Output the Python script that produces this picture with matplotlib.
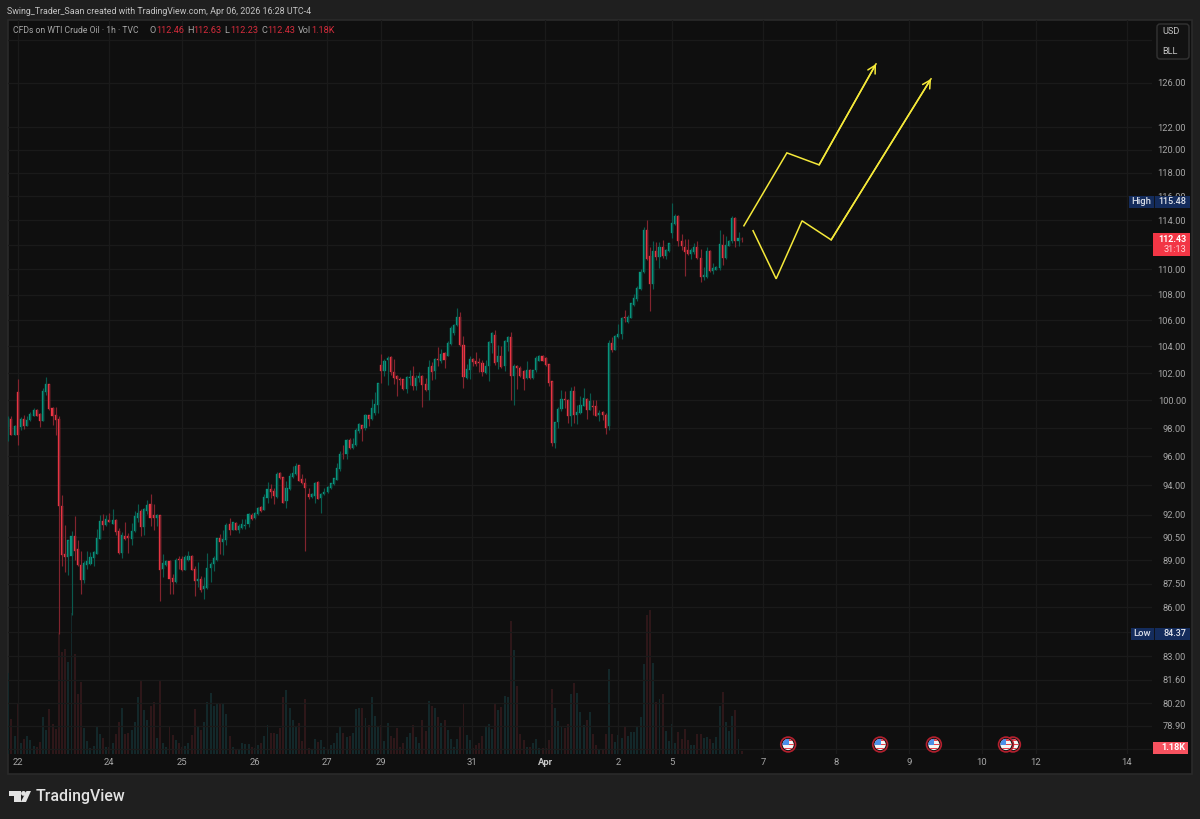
import matplotlib
matplotlib.use("Agg")
import matplotlib.pyplot as plt
from matplotlib.patches import Circle, FancyBboxPatch, Polygon, Rectangle

# hourly candles
opens = [98.06,98.65,97.53,100.61,98.08,98.65,98.17,98.60,98.89,99.32,
         99.04,98.53,100.58,101.20,99.44,98.96,98.65,92.58,89.44,89.22,
         89.27,90.57,89.75,88.73,87.77,88.73,88.79,89.16,89.44,90.42,
         91.57,91.31,91.68,91.42,91.68,90.93,89.49,90.61,90.57,90.42,
         90.90,91.80,92.25,91.19,92.29,92.76,92.02,91.80,92.02,88.47,
         88.68,88.99,87.87,87.62,89.12,89.09,88.40,89.05,89.31,88.44,
         87.66,87.79,87.15,87.21,88.49,88.75,89.01,90.48,90.22,90.33,
         91.37,90.99,91.48,90.99,91.15,91.26,91.37,91.99,91.77,92.04,
         92.55,92.33,93.11,93.77,93.59,93.20,94.82,94.57,92.93,93.72,
         94.59,94.75,95.39,94.41,94.18,93.38,93.22,93.27,94.23,93.11,
         93.38,93.54,93.79,94.06,94.36,95.09,96.18,96.14,97.14,96.60,
         96.79,97.77,98.25,98.01,98.92,98.66,99.09,99.69,102.63,102.13,
         103.00,103.20,102.06,101.81,101.59,101.57,100.84,101.62,101.79,101.08,
         101.64,101.81,101.23,100.74,102.50,102.13,103.05,102.88,103.50,103.30,
         104.18,105.01,105.60,106.25,104.13,101.64,102.26,103.05,102.88,102.80,
         102.75,102.01,102.50,104.26,104.88,102.80,103.30,102.50,104.33,104.71,
         101.81,102.50,102.38,102.18,101.64,102.26,101.62,102.21,102.93,103.30,
         103.13,102.68,101.38,96.93,98.42,99.40,100.12,100.05,98.90,100.67,
         98.97,99.09,99.62,100.10,99.33,99.62,99.62,98.95,99.14,98.97,
         98.13,104.25,103.74,104.75,104.96,106.29,105.90,106.21,107.20,107.64,
         108.41,109.77,113.21,111.11,108.81,111.52,110.98,111.79,111.11,111.49,
         112.94,113.71,114.37,112.26,111.79,111.57,111.25,111.38,111.77,110.90,
         109.37,109.37,111.52,109.87,109.96,110.09,111.99,110.90,111.90,112.26,
         114.18,112.26,112.46]
highs = [98.84,98.84,98.24,101.56,98.80,98.96,98.84,99.13,99.44,99.37,
         99.08,100.90,101.71,101.22,99.51,99.51,98.84,93.37,91.35,90.35,
         90.90,91.95,90.35,89.59,88.94,89.59,89.55,89.59,91.06,91.97,
         92.09,92.02,92.14,92.39,91.73,91.13,90.86,91.51,90.79,91.46,
         92.29,92.76,92.39,92.47,92.98,93.44,92.73,92.09,92.02,89.44,
         89.05,89.05,88.15,89.16,89.27,89.27,89.38,89.64,89.38,88.62,
         88.88,88.00,87.96,89.46,88.90,89.29,90.48,90.75,90.99,91.43,
         91.81,91.54,91.52,91.37,91.70,91.70,92.11,92.15,92.19,92.55,
         92.59,93.43,94.25,94.06,93.84,94.93,94.91,94.59,94.29,94.82,
         95.32,95.51,95.39,94.75,94.52,93.84,93.50,94.25,94.29,93.50,
         93.84,93.95,94.18,94.52,95.56,96.37,96.83,97.23,97.30,97.30,
         98.01,98.37,98.25,99.02,98.97,100.10,100.59,101.28,103.45,103.05,
         103.25,103.25,103.05,101.89,101.69,101.59,101.81,102.26,102.55,101.89,
         102.06,101.84,101.64,102.95,102.80,103.13,103.93,103.80,103.55,104.43,
         105.53,105.73,106.92,106.61,104.81,102.68,103.25,103.13,103.55,103.13,
         103.00,103.00,104.43,105.09,105.27,104.13,104.00,104.51,104.83,105.09,
         102.70,102.63,102.55,102.26,102.93,102.33,102.26,103.25,103.38,103.38,
         103.20,102.70,101.40,98.42,99.52,100.79,100.67,100.10,100.99,101.08,
         99.69,100.35,100.91,100.15,100.54,100.00,100.05,99.33,99.19,99.09,
         104.51,104.75,104.88,105.69,106.29,106.81,106.42,107.38,108.05,108.68,
         110.01,113.43,114.04,111.79,112.26,112.20,112.20,112.39,111.63,112.12,
         115.48,114.54,114.46,112.86,112.45,112.45,111.71,112.17,112.33,111.63,
         110.23,111.79,111.57,110.55,110.28,113.21,112.89,112.67,112.39,114.37,
         114.26,113.03,112.63]
lows = [97.06,97.48,97.48,96.83,97.89,97.96,98.12,98.49,98.89,98.84,
        98.05,98.49,100.41,99.32,98.24,97.48,84.37,88.62,88.23,88.08,
        85.53,89.05,88.62,86.82,87.56,88.47,88.73,88.62,89.44,90.42,
        91.01,91.24,91.51,91.42,90.68,89.42,89.16,90.31,89.49,90.03,
        90.86,91.51,90.57,90.68,92.09,91.24,91.01,91.24,86.40,87.91,
        88.62,86.82,86.88,87.56,88.47,88.34,88.40,88.99,88.40,86.71,
        87.28,86.99,86.56,87.15,87.58,88.32,88.97,89.40,89.35,90.01,
        90.64,90.97,90.97,90.81,91.04,91.04,91.19,91.66,91.70,91.97,
        92.21,92.33,92.77,93.11,92.71,93.11,94.41,92.77,92.48,93.68,
        94.48,94.68,94.29,94.06,89.61,93.08,93.15,92.82,93.04,92.15,
        93.34,93.50,93.72,94.00,94.34,94.97,95.83,95.83,96.49,96.49,
        96.72,97.65,97.07,97.89,98.13,98.61,98.97,99.09,101.28,101.82,
        101.15,101.89,101.23,100.35,101.15,100.79,100.54,101.15,100.74,100.79,
        101.35,99.52,100.67,100.05,101.52,101.59,102.50,102.75,102.38,103.25,
        104.13,104.88,105.53,104.06,100.91,101.57,101.59,102.50,102.50,102.06,
        101.81,101.96,101.40,103.50,102.58,102.33,102.38,102.13,103.63,100.05,
        99.69,100.86,101.72,100.79,101.57,101.57,101.59,102.06,102.88,102.88,
        102.55,101.08,96.74,96.57,98.01,99.21,99.45,98.37,98.13,98.37,
        98.32,99.04,99.57,98.68,99.28,98.97,98.85,98.49,98.61,97.58,
        97.84,103.56,103.74,104.63,104.58,105.90,105.82,106.16,107.12,107.53,
        108.36,109.74,110.76,106.68,108.41,110.76,110.15,110.90,110.84,111.44,
        112.58,113.62,111.85,111.57,109.51,111.17,110.84,111.25,110.82,108.97,
        109.16,109.29,109.82,109.63,109.96,109.96,110.36,110.84,111.85,112.17,
        111.79,111.93,112.23]
closes = [98.72,97.53,98.17,97.53,98.65,98.17,98.56,99.04,99.27,98.89,
          98.53,100.66,101.20,99.37,98.89,98.60,92.58,89.38,89.22,90.35,
          90.57,89.64,88.68,87.77,88.83,88.94,89.22,89.53,90.46,91.57,
          91.31,91.75,91.55,91.68,90.84,89.46,90.68,90.40,90.46,90.95,
          91.91,92.14,91.17,92.36,92.69,91.80,91.80,92.02,88.40,88.83,
          88.94,87.83,87.62,89.05,89.01,88.36,89.20,89.27,88.40,87.66,
          87.81,87.11,87.36,88.53,88.79,89.18,90.44,90.22,90.38,91.32,
          90.99,91.54,90.99,91.26,91.37,91.35,92.04,91.70,92.15,92.48,
          92.26,93.20,93.72,93.54,93.27,94.77,94.48,92.82,93.79,94.64,
          94.82,95.32,94.32,94.13,93.84,93.22,93.38,94.18,93.08,93.43,
          93.57,93.90,94.18,94.48,95.16,96.18,96.14,97.14,96.60,96.88,
          97.89,98.32,97.94,98.92,98.66,99.45,99.74,101.28,102.13,102.88,
          103.13,102.06,101.64,101.57,101.52,100.86,101.72,101.72,101.08,101.64,
          101.81,101.15,100.72,102.43,102.06,103.05,103.00,103.45,102.95,104.26,
          105.40,105.65,106.25,104.08,101.72,102.30,103.05,102.80,102.68,102.73,
          102.06,102.55,104.31,105.01,102.75,103.25,102.43,104.38,104.71,101.81,
          102.50,102.38,101.76,101.57,102.26,101.62,102.26,103.13,103.25,102.93,
          102.58,101.28,96.93,98.42,99.40,100.12,100.05,98.85,100.67,98.97,
          99.14,99.69,100.15,99.33,99.93,99.52,98.90,99.09,98.95,98.04,
          104.26,103.74,104.80,104.96,106.21,106.21,106.29,107.33,107.77,108.55,
          109.82,113.21,110.84,108.81,111.52,111.03,111.79,111.11,111.57,112.12,
          113.76,114.32,112.26,111.85,111.44,111.25,111.57,111.79,110.90,109.37,
          109.56,111.52,109.87,110.09,110.17,112.04,110.90,111.99,112.31,114.18,
          112.26,112.53,112.43]
# volume in units of 0.118K
volumes = [242,105,54,152,34,44,54,42,24,20,
           37,110,72,134,89,74,362,307,314,275,
           422,299,180,215,77,39,19,24,82,60,
           47,20,20,34,60,97,137,60,64,72,
           95,172,222,132,102,144,155,47,220,34,
           20,84,57,42,32,20,25,32,57,134,
           82,72,97,155,182,145,150,152,152,120,
           54,20,12,12,32,30,30,20,17,27,
           34,54,87,62,64,60,77,170,192,139,
           102,82,92,40,165,17,12,44,37,42,
           20,14,27,32,62,82,64,50,54,64,
           135,137,139,109,87,170,115,84,87,40,
           94,54,47,77,22,34,50,62,87,52,
           34,102,70,160,144,137,110,92,102,72,
           45,20,45,84,152,57,42,19,27,32,
           54,82,89,74,150,132,140,174,170,400,
           312,204,60,42,20,20,32,45,19,19,
           19,42,194,137,99,84,77,90,179,212,
           182,127,87,102,125,60,27,12,15,60,
           255,59,37,57,49,82,55,65,65,82,
           110,270,417,432,272,157,164,179,69,39,
           90,32,65,45,74,42,27,27,59,60,
           49,50,45,34,50,145,187,97,69,114,
           132,45,10]

# axis ticks (x in bar numbers)
day_ticks = [3,31.9,54.9,78,100.8,117.9,146.7,169.8,192.9,210,238.8,261.8,284.9,308,325,353.9]
day_labels = ["22","24","25","26","27","29","31","Apr","2","5","7","8","9","10","12","14"]
price_ticks = [130,126,122,120,118,116,114,112,110,108,106,104,102,100,98,96,94,92,
               90.5,89,87.5,86,84.5,83,81.6,80.2,78.9,77.6]
# these levels have a grid line but their label is covered by a tag in the chart
unlabelled = [130,112,84.5,77.6]

# drawn arrows
arrow1_x = [232.7,246.3,256.5,274.5]
arrow1_y = [113.55,119.74,118.70,127.75]
arrow2_x = [235.6,242.9,251.1,260.3,291.9]
arrow2_y = [113.14,109.25,113.96,112.39,126.37]

# economic calendar flags
event_bars = [246.7,275.8,292.8,317.8,315.6]

UP = "#089981"
DOWN = "#f23645"
UP_WICK = "#0a5a4e"
DOWN_WICK = "#82242e"
TEXT = "#a6a6a6"
YELLOW = "#f5e93a"
plt.rcParams["font.family"] = "Roboto"

fig = plt.figure(figsize=(12, 8.19), dpi=100, facecolor="#1f1f1f")
W, H = 1200, 819
rect = [8/W, 1-754/H, (1152-8)/W, (754-20)/H]

# frame behind everything
back = fig.add_axes([0, 0, 1, 1], zorder=0)
back.set_xlim(0, W)
back.set_ylim(H, 0)
back.axis("off")
back.add_patch(Rectangle((7.5, 19.5), 1184.5, 754, fc="#0f0f0f", ec="#2a2a2a", lw=1.2))

# volume underneath the candles
ax_vol = fig.add_axes(rect, zorder=1)
ax_vol.patch.set_alpha(0)
bars = list(range(len(closes)))
vol_colors = ["#13282a" if c >= o else "#2e1719" for o, c in zip(opens, closes)]
ax_vol.bar(bars, volumes, width=0.62, color=vol_colors, linewidth=0)
ax_vol.set_ylim(0, 2202)
ax_vol.set_xlim(-0.09, 361.8)
ax_vol.axis("off")

ax = fig.add_axes(rect, zorder=2)
ax.patch.set_alpha(0)
ax.set_yscale("log")
ax.set_ylim(77.3, 131.9)
ax.set_xlim(-0.09, 361.8)

ax.set_yticks(price_ticks)
ax.set_yticklabels(["" if p in unlabelled else "%.2f" % p for p in price_ticks])
ax.minorticks_off()
ax.yaxis.tick_right()
ax.tick_params(axis="y", length=0, pad=24.5, labelsize=6.7, labelcolor=TEXT)
for lbl in ax.get_yticklabels():
    lbl.set_ha("right")
ax.set_xticks(day_ticks)
ax.set_xticklabels(day_labels)
ax.tick_params(axis="x", length=0, pad=3.2, labelsize=6.8, labelcolor=TEXT)
for lbl in ax.get_xticklabels():
    if lbl.get_text() == "Apr":
        lbl.set_fontweight("bold")
        lbl.set_color("#c8c8c8")
ax.grid(True, color="#1a1a1a", linewidth=0.9)
ax.set_axisbelow(True)
for side in ax.spines.values():
    side.set_visible(False)

# candles
wick_colors = [UP_WICK if c >= o else DOWN_WICK for o, c in zip(opens, closes)]
body_colors = [UP if c >= o else DOWN for o, c in zip(opens, closes)]
ax.vlines(bars, lows, highs, colors=wick_colors, linewidth=0.85)
body_low = [min(o, c) for o, c in zip(opens, closes)]
body_size = [abs(c - o) for o, c in zip(opens, closes)]
ax.bar(bars, body_size, bottom=body_low, width=0.66, color=body_colors,
       edgecolor=body_colors, linewidth=0.25)

# hand drawn arrows
ax.plot(arrow1_x, arrow1_y, color=YELLOW, lw=1.1, solid_joinstyle="miter")
ax.plot(arrow2_x, arrow2_y, color=YELLOW, lw=1.1, solid_joinstyle="miter")
for xs, ys in ((arrow1_x, arrow1_y), (arrow2_x, arrow2_y)):
    ax.annotate("", xy=(xs[-1], ys[-1]), xytext=(xs[-2], ys[-2]),
                arrowprops=dict(arrowstyle="->,head_length=0.55,head_width=0.3",
                                color=YELLOW, lw=1.1, shrinkA=0, shrinkB=0))

# everything else sits on top in pixel coordinates
top = fig.add_axes([0, 0, 1, 1], zorder=3)
top.set_xlim(0, W)
top.set_ylim(H, 0)
top.axis("off")
top.patch.set_alpha(0)

top.text(7, 11, "Swing_Trader_Saan created with TradingView.com, Apr 06, 2026 16:28 UTC-4",
         color="#c4c4c4", fontsize=6.4, va="center")

legend_y = 30.5
top.text(13, legend_y, "CFDs on WTI Crude Oil · 1h · TVC", color=TEXT, fontsize=6.2, va="center")
for x, t, col in [(150, "O", TEXT), (156, "112.46", "#d62c3c"), (187, "H", TEXT), (193, "112.63", "#d62c3c"),
                  (224, "L", TEXT), (230, "112.23", "#d62c3c"), (261, "C", TEXT), (267, "112.43", "#d62c3c"),
                  (298, "Vol", TEXT), (311, "1.18K", "#d62c3c")]:
    top.text(x, legend_y, t, color=col, fontsize=6.6, va="center")

# currency box
top.add_patch(FancyBboxPatch((1157, 24), 32, 35, boxstyle="round,pad=0,rounding_size=3",
                             fc="#121212", ec="#333333", lw=1))
top.text(1162, 32, "USD", color="#c4c4c4", fontsize=6.6, va="center")
top.text(1162, 51, "BLL", color="#c4c4c4", fontsize=6.6, va="center")

# high and low tags
BLUE = "#142c5c"
for y0, y1, name, value, x_left in [(196, 208, "High", "115.48", 1129), (628, 640, "Low", "84.37", 1131)]:
    top.add_patch(Rectangle((x_left, y0), 1190 - x_left, y1 - y0, fc=BLUE, ec="none"))
    top.plot([1153.7, 1153.7], [y0, y1], color="#0f0f0f", lw=0.6)
    top.text((x_left + 1153.7) / 2, (y0 + y1) / 2, name, color="#d8dce6", fontsize=6.8,
             ha="center", va="center", fontweight="medium")
    top.text(1186, (y0 + y1) / 2, value, color="#e6e8ee", fontsize=6.5, ha="right", va="center",
             fontweight="medium")

# last price tag
top.add_patch(Rectangle((1153, 233), 37, 23, fc=DOWN, ec="none"))
top.text(1186, 239, "112.43", color="white", fontsize=6.4, ha="right", va="center", fontweight="bold")
top.text(1186, 250, "31:13", color="#ffd5d8", fontsize=6.6, ha="right", va="center")

# volume tag
top.add_patch(Rectangle((1153, 742), 35, 12, fc="#f7525f", ec="none"))
top.text(1185, 748, "1.18K", color="white", fontsize=6.6, ha="right", va="center", fontweight="bold")

# flags, placed from the candle axis
for bar in event_bars:
    cx = ax.transData.transform((bar, 100))[0]
    cy = 744.5
    top.add_patch(Circle((cx, cy), 7.4, fc="#0f0f0f", ec="#b3202e", lw=1.2))
    disc = Circle((cx, cy), 5.6, fc="#f4f4f4", ec="none")
    top.add_patch(disc)
    for y0 in (cy - 5.6, cy - 1, cy + 3):
        s = Rectangle((cx - 6, y0), 12, 1.7, fc="#e8404c", ec="none")
        top.add_patch(s)
        s.set_clip_path(disc)
    canton = Rectangle((cx - 6, cy - 6), 6.5, 6, fc="#4d90e8", ec="none")
    top.add_patch(canton)
    canton.set_clip_path(disc)

# TradingView logo
LOGO = "#e2e2e2"
top.add_patch(Polygon([(8.5, 791), (21, 791), (21, 802), (13.5, 802), (13.5, 796), (8.5, 796)], fc=LOGO, ec="none"))
top.add_patch(Circle((23.5, 793.4), 2.4, fc=LOGO, ec="none"))
top.add_patch(Polygon([(26.5, 791), (31, 791), (26, 802), (20.8, 802)], fc=LOGO, ec="none"))
top.text(36, 796.5, "TradingView", color=LOGO, fontsize=11.4, va="center", fontweight="medium")

fig.savefig("out.png", dpi=100, facecolor=fig.get_facecolor())
